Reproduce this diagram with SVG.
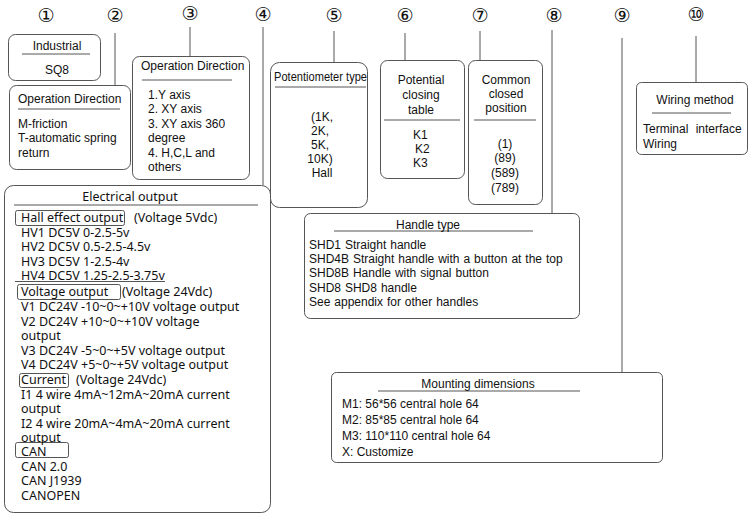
<svg xmlns="http://www.w3.org/2000/svg" width="755" height="521" viewBox="0 0 755 521">
<style>
.box{fill:#fff;stroke:#555;stroke-width:1}
.div{stroke:#555;stroke-width:1}
.lbl{stroke:#555;stroke-width:1;fill:none}
.con{stroke:#555;stroke-width:1}
text{font-family:"Liberation Sans",Arial,sans-serif;font-size:12px;fill:#111}
.e{font-family:"Noto Sans","Open Sans",sans-serif;font-size:12.5px}
.num{font-family:"DejaVu Sans",sans-serif;font-size:19px;text-anchor:middle}
.c{text-anchor:middle}
</style>
<rect width="755" height="521" fill="#fff"/>
<g id="numbers">
<text class="num" x="46" y="22">①</text>
<text class="num" x="115" y="22">②</text>
<text class="num" x="190" y="20">③</text>
<text class="num" x="263" y="21">④</text>
<text class="num" x="334" y="22">⑤</text>
<text class="num" x="405" y="22">⑥</text>
<text class="num" x="480" y="22">⑦</text>
<text class="num" x="554" y="22">⑧</text>
<text class="num" x="622" y="22">⑨</text>
<text class="num" x="696" y="21">⑩</text>
</g>
<g id="connectors">
<line class="con" x1="115" y1="33" x2="115" y2="85"/>
<line class="con" x1="190" y1="27" x2="190" y2="56"/>
<line class="con" x1="263" y1="27" x2="263" y2="185"/>
<line class="con" x1="334" y1="31" x2="334" y2="62"/>
<line class="con" x1="405" y1="33" x2="405" y2="60"/>
<line class="con" x1="480" y1="31" x2="480" y2="60"/>
<line class="con" x1="552" y1="30" x2="552" y2="213"/>
<line class="con" x1="622" y1="38" x2="622" y2="372"/>
<line class="con" x1="696" y1="36" x2="696" y2="82"/>
</g>
<g id="n1">
<rect class="box" x="8.5" y="34.5" width="92" height="46" rx="7"/>
<line class="div" x1="22" y1="54" x2="90" y2="54"/>
<text class="c" x="57" y="50">Industrial</text>
<text class="c" x="57" y="74">SQ8</text>
</g>
<g id="n2">
<rect class="box" x="9.5" y="85.5" width="121" height="84" rx="7"/>
<line class="div" x1="18" y1="109" x2="120" y2="109"/>
<text x="18" y="103">Operation Direction</text>
<text x="18" y="128">M-friction</text>
<text x="18" y="142">T-automatic spring</text>
<text x="18" y="157">return</text>
</g>
<g id="n3">
<rect class="box" x="132.5" y="56.5" width="117" height="123" rx="7"/>
<line class="div" x1="142" y1="80" x2="232" y2="80"/>
<text x="141" y="70">Operation Direction</text>
<text x="148" y="99">1.Y axis</text>
<text x="148" y="113">2. XY axis</text>
<text x="148" y="128">3. XY axis 360</text>
<text x="148" y="142">degree</text>
<text x="148" y="157">4. H,C,L and</text>
<text x="148" y="171">others</text>
</g>
<g id="n4">
<rect class="box" x="4.5" y="185.5" width="266" height="327" rx="9"/>
<line class="div" x1="14" y1="205" x2="258" y2="205"/>
<text class="e c" x="130" y="201">Electrical output</text>
<rect class="lbl" x="15.5" y="210.5" width="109" height="15" rx="2"/>
<rect class="lbl" x="17.5" y="284.5" width="103" height="15" rx="2"/>
<rect class="lbl" x="19.5" y="373.5" width="49" height="14" rx="2"/>
<rect class="lbl" x="15.5" y="442.5" width="53" height="15" rx="2"/>
<line class="div" x1="15" y1="281.5" x2="165" y2="281.5"/>
<text class="e" x="21" y="222">Hall effect output</text>
<text class="e" x="134" y="222">(Voltage 5Vdc)</text>
<text class="e" x="21" y="236.5">HV1 DC5V 0-2.5-5v</text>
<text class="e" x="21" y="251">HV2 DC5V 0.5-2.5-4.5v</text>
<text class="e" x="21" y="265.5">HV3 DC5V 1-2.5-4v</text>
<text class="e" x="21" y="280">HV4 DC5V 1.25-2.5-3.75v</text>
<text class="e" x="21" y="296">Voltage output</text>
<text class="e" x="122" y="296">(Voltage 24Vdc)</text>
<text class="e" x="21" y="311">V1 DC24V -10~0~+10V voltage output</text>
<text class="e" x="21" y="325.5">V2 DC24V +10~0~+10V voltage</text>
<text class="e" x="21" y="340">output</text>
<text class="e" x="21" y="354.5">V3 DC24V -5~0~+5V voltage output</text>
<text class="e" x="21" y="369">V4 DC24V +5~0~+5V voltage output</text>
<text class="e" x="21" y="384">Current</text>
<text class="e" x="76" y="384">(Voltage 24Vdc)</text>
<text class="e" x="21" y="398.5">I1 4 wire 4mA~12mA~20mA current</text>
<text class="e" x="21" y="413">output</text>
<text class="e" x="21" y="427.5">I2 4 wire 20mA~4mA~20mA current</text>
<text class="e" x="21" y="441.5">output</text>
<text class="e" x="21" y="456">CAN</text>
<text class="e" x="21" y="470.5">CAN 2.0</text>
<text class="e" x="21" y="485">CAN J1939</text>
<text class="e" x="21" y="499.5">CANOPEN</text>
</g>
<g id="n5">
<rect class="box" x="270.5" y="62.5" width="97" height="145" rx="9"/>
<line class="div" x1="275" y1="87" x2="366" y2="87"/>
<text x="274" y="81" font-size="11.5" textLength="93" lengthAdjust="spacingAndGlyphs">Potentiometer type</text>
<text class="c" x="322" y="121">(1K,</text>
<text class="c" x="320" y="135">2K,</text>
<text class="c" x="320" y="149">5K,</text>
<text class="c" x="320" y="163">10K)</text>
<text class="c" x="322" y="177">Hall</text>
</g>
<g id="n6">
<rect class="box" x="380.5" y="60.5" width="84" height="118" rx="7"/>
<line class="div" x1="384" y1="120" x2="460" y2="120"/>
<text class="c" x="421" y="84">Potential</text>
<text class="c" x="421" y="99">closing</text>
<text class="c" x="421" y="114">table</text>
<text x="413" y="139">K1</text>
<text x="415" y="153">K2</text>
<text x="413" y="167">K3</text>
</g>
<g id="n7">
<rect class="box" x="468.5" y="60.5" width="74" height="144" rx="7"/>
<line class="div" x1="474" y1="120" x2="536" y2="120"/>
<text class="c" x="506" y="84">Common</text>
<text class="c" x="506" y="98">closed</text>
<text class="c" x="506" y="112">position</text>
<text class="c" x="505" y="148">(1)</text>
<text class="c" x="505" y="162">(89)</text>
<text class="c" x="505" y="177">(589)</text>
<text class="c" x="505" y="192">(789)</text>
</g>
<g id="n8">
<rect class="box" x="304.5" y="213.5" width="275" height="105" rx="6"/>
<line class="div" x1="334" y1="231" x2="533" y2="231"/>
<text class="c" x="428" y="229">Handle type</text>
<text x="309" y="249" word-spacing="0.6">SHD1 Straight handle</text>
<text x="309" y="263" word-spacing="0.6">SHD4B Straight handle with a button at the top</text>
<text x="309" y="277" word-spacing="0.6">SHD8B Handle with signal button</text>
<text x="309" y="292" word-spacing="0.6">SHD8 SHD8 handle</text>
<text x="309" y="306" word-spacing="0.6">See appendix for other handles</text>
</g>
<g id="n9">
<rect class="box" x="331.5" y="372.5" width="331" height="90" rx="5"/>
<line class="div" x1="378" y1="391" x2="580" y2="391"/>
<text class="c" x="478" y="388">Mounting dimensions</text>
<text x="342" y="408">M1: 56*56 central hole 64</text>
<text x="342" y="424">M2: 85*85 central hole 64</text>
<text x="342" y="440">M3: 110*110 central hole 64</text>
<text x="342" y="456">X: Customize</text>
</g>
<g id="n10">
<rect class="box" x="636.5" y="82.5" width="111" height="72" rx="5"/>
<line class="div" x1="652" y1="113" x2="731" y2="113"/>
<text class="c" x="695" y="104">Wiring method</text>
<text x="643" y="133" word-spacing="4">Terminal interface</text>
<text x="643" y="148">Wiring</text>
</g>
</svg>
